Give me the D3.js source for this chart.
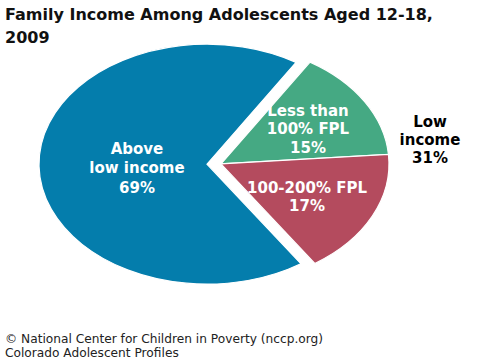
<!DOCTYPE html>
<html>
<head>
<meta charset="utf-8">
<script src="https://cdn.jsdelivr.net/npm/d3@7"></script>
<style>
  html, body { margin: 0; padding: 0; background: #fff; }
  svg { display: block; }
  text { font-family: "DejaVu Sans", sans-serif; }
</style>
</head>
<body>
<svg id="chart" width="498" height="363"></svg>
<script>
// ---- data ----
const categories = ["Less than 100% FPL", "100-200% FPL", "Above low income"];
const values = [15, 17, 69];
const groups = ["low", "low", "above"];
const sliceLabels = [["Less than", "100% FPL", "15%"], ["100-200% FPL", "17%"], ["Above", "low income", "69%"]];
const colors = ["#45a983", "#b44b5e", "#047dac"];
const titleLines = ["Family Income Among Adolescents Aged 12-18,", "2009"];
const groupLabel = ["Low", "income", "31%"];
const footerLines = ["\u00A9 National Center for Children in Poverty (nccp.org)", "Colorado Adolescent Profiles"];

// ---- layout ----
const svg = d3.select("#chart");
const cx = 214, cy = 164, rx = 168, ry = 120, explode = 7;
const startDeg = 32;

const pie = d3.pie().sort(null).value(d => d)
  .startAngle(startDeg * Math.PI / 180)
  .endAngle(startDeg * Math.PI / 180 + 2 * Math.PI);
const arcs = pie(values);
const arc = d3.arc().innerRadius(0).outerRadius(rx);

// group mid-angles for explosion
const groupAngles = {};
arcs.forEach((a, i) => {
  const g = groups[i];
  if (!groupAngles[g]) groupAngles[g] = [a.startAngle, a.endAngle];
  else { groupAngles[g][0] = Math.min(groupAngles[g][0], a.startAngle); groupAngles[g][1] = Math.max(groupAngles[g][1], a.endAngle); }
});
function offset(g) {
  const m = (groupAngles[g][0] + groupAngles[g][1]) / 2;
  return [Math.sin(m) * explode, -Math.cos(m) * explode];
}

const pieG = svg.append("g");
arcs.forEach((a, i) => {
  const [ox, oy] = offset(groups[i]);
  pieG.append("path")
    .attr("d", arc(a))
    .attr("transform", `translate(${cx + ox},${cy + oy}) scale(1,${ry / rx})`)
    .attr("fill", colors[i])
    .attr("stroke", "#fff")
    .attr("stroke-width", 1.2)
    .attr("vector-effect", "non-scaling-stroke");
});

// slice labels
const labelPos = [[308, 110], [307, 187], [137, 148]];
const lineH = [18.5, 18.5, 19.5];
sliceLabels.forEach((lines, i) => {
  const t = svg.append("text")
    .attr("text-anchor", "middle")
    .attr("fill", "#fff")
    .attr("font-weight", "bold")
    .attr("font-size", 15);
  lines.forEach((l, j) => {
    t.append("tspan").attr("x", labelPos[i][0]).attr("y", labelPos[i][1] + 5.5 + j * lineH[i]).text(l);
  });
});

// group label
const gl = svg.append("text").attr("text-anchor", "middle").attr("fill", "#000")
  .attr("font-weight", "bold").attr("font-size", 15);
groupLabel.forEach((l, j) => gl.append("tspan").attr("x", 430).attr("y", 126.5 + j * 18).text(l));

// title
const tt = svg.append("text").attr("fill", "#111").attr("font-weight", "bold").attr("font-size", 16);
titleLines.forEach((l, j) => tt.append("tspan").attr("x", 5).attr("y", 20 + j * 22.5).text(l));

// footer
const ft = svg.append("text").attr("fill", "#222").attr("font-size", 12.2);
footerLines.forEach((l, j) => ft.append("tspan").attr("x", 5).attr("y", 343 + j * 14).text(l));
</script>
</body>
</html>
